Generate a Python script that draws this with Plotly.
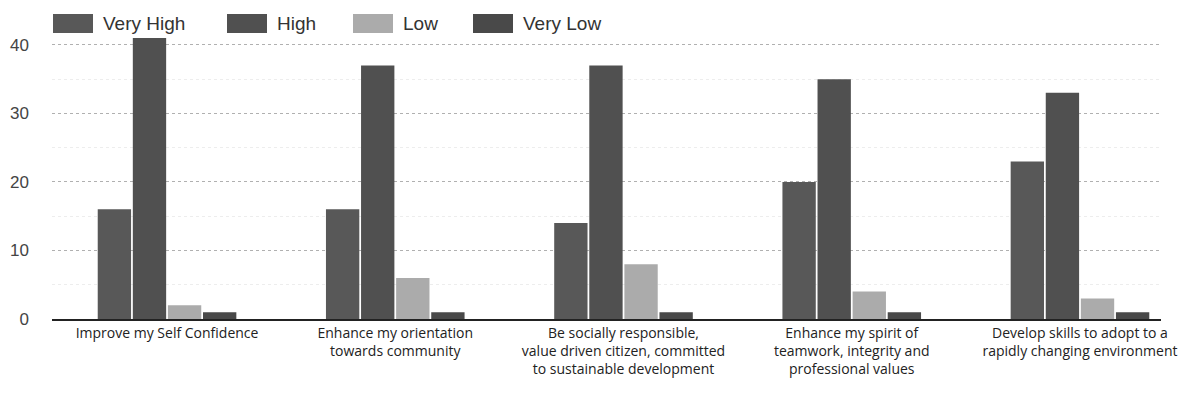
import plotly.graph_objects as go

# Categories and counts
categories = [
    'Improve my Self Confidence',
    'Enhance my orientation<br>towards community',
    'Be socially responsible,<br>value driven citizen, committed<br>to sustainable development',
    'Enhance my spirit of<br>teamwork, integrity and<br>professional values',
    'Develop skills to adopt to a<br>rapidly changing environment',
]
very_high = [16, 16, 14, 20, 23]
high = [41, 37, 37, 35, 33]
low = [2, 6, 8, 4, 3]
very_low = [1, 1, 1, 1, 1]

series = [
    ('Very High', very_high, '#585858'),
    ('High', high, '#505050'),
    ('Low', low, '#ababab'),
    ('Very Low', very_low, '#494949'),
]

# page body has an 8px margin, so the figure is sized to fit the window
OFF = 8
W, H = 1195 - OFF, 400 - OFF
L, R, T, B = 44, 34, 28, 81

def px(x):
    # screen x -> paper fraction
    return (x - OFF - L) / (W - L - R)

def py(y):
    # screen y -> paper fraction
    return (H - B - (y - OFF)) / (H - T - B)

fig = go.Figure()
for name, vals, col in series:
    fig.add_trace(go.Bar(x=categories, y=vals, name=name, marker_color=col,
                         marker_line_width=0))

# legend drawn by hand: the scan has wide rectangular swatches
legend_x = [53, 227, 353, 473]
shapes = []
annotations = []
for (name, vals, col), x0 in zip(series, legend_x):
    shapes.append(dict(type='rect', xref='paper', yref='paper',
                       x0=px(x0), x1=px(x0 + 40), y0=py(33), y1=py(14),
                       fillcolor=col, line_width=0))
    annotations.append(dict(text=name, xref='paper', yref='paper',
                            x=px(x0 + 48), y=py(24), xanchor='left', yanchor='middle',
                            showarrow=False, font=dict(size=19, color='#333333')))

# table border on the right of the scan
shapes.append(dict(type='line', xref='paper', yref='paper', x0=px(1189), x1=px(1189),
                   y0=py(399), y1=py(9), line=dict(color='#222222', width=2.5)))

fig.update_layout(
    width=W,
    height=H,
    barmode='group',
    bargap=0.385,
    bargroupgap=0.05,
    showlegend=False,
    margin=dict(l=L, r=R, t=T, b=B, autoexpand=False),
    plot_bgcolor='white',
    paper_bgcolor='white',
    font=dict(family='Liberation Sans', size=14, color='#444444'),
    xaxis=dict(range=[-0.504, 4.355], showline=True, linecolor='#222222', linewidth=1.5,
               ticks='', tickfont=dict(family='Open Sans', size=14, color='#222222')),
    yaxis=dict(range=[0, 41.3], dtick=10, showgrid=True, gridcolor='#b0b0b0',
               griddash='dot', gridwidth=1, zeroline=False, ticklabelstandoff=22,
               tickfont=dict(size=17, color='#444444'),
               minor=dict(dtick=5, showgrid=True, gridcolor='#ededed', griddash='dot')),
    shapes=shapes,
    annotations=annotations,
)

fig.write_html('out.html')
